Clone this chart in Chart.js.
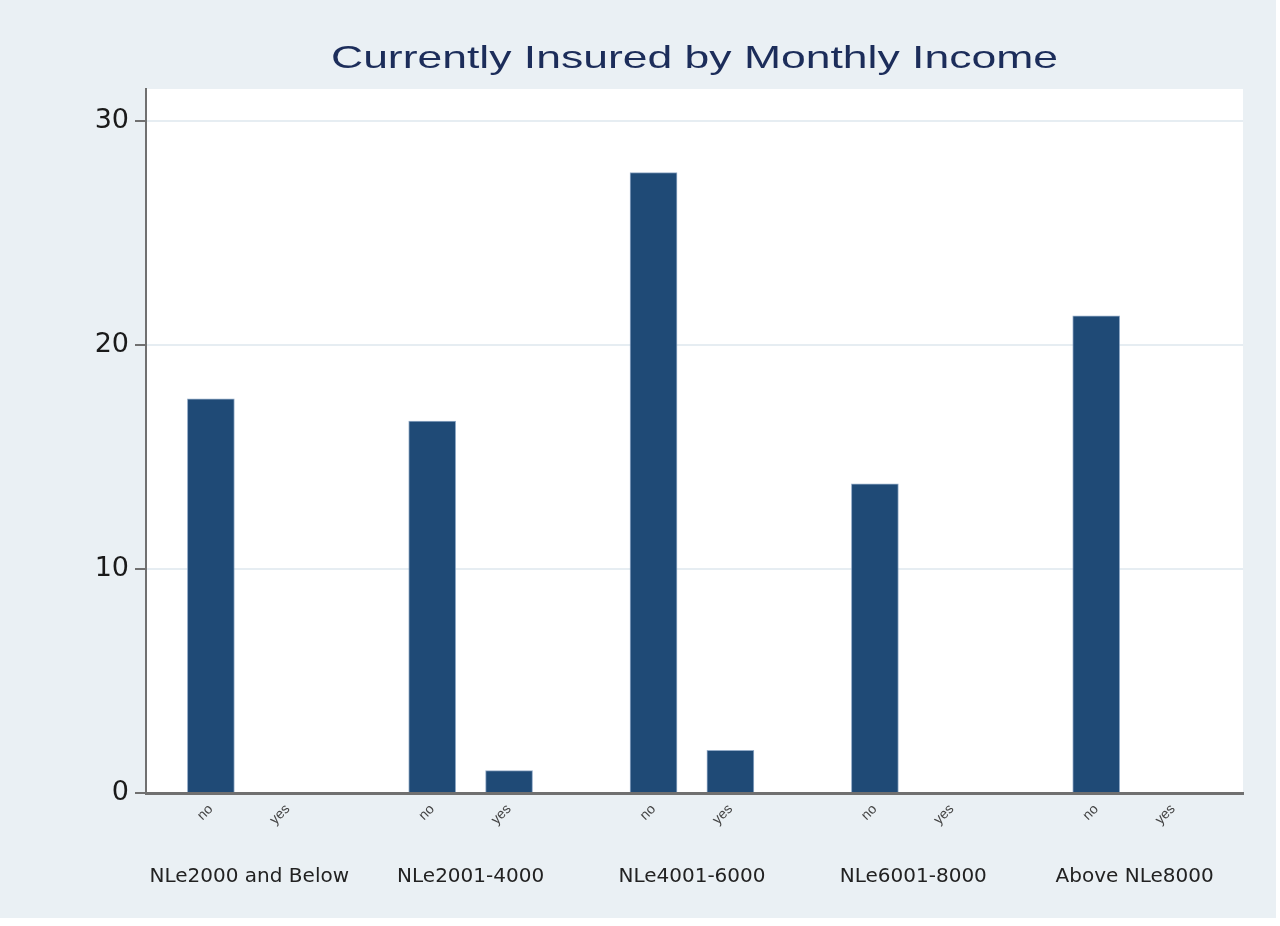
<!DOCTYPE html>
<html>
<head>
<meta charset="utf-8">
<script src="https://cdn.jsdelivr.net/npm/chart.js@4/dist/chart.umd.min.js"></script>
<style>
  html, body { margin: 0; padding: 0; background: #ffffff; }
  #wrap { width: 1280px; height: 926px; position: relative; }
</style>
</head>
<body>
<div id="wrap"><canvas id="myChart"></canvas></div>
<script>
// Data
const groups = ['NLe2000 and Below', 'NLe2001-4000', 'NLe4001-6000', 'NLe6001-8000', 'Above NLe8000'];
const subLabels = ['no', 'yes'];
const noValues = [17.6, 16.6, 27.7, 13.8, 21.3];
const yesValues = [0, 1.0, 1.9, 0, 0];
const yTicks = [0, 10, 20, 30];
const titleText = 'Currently Insured by Monthly Income';

// spacing between groups, in bar units
const GAP = 2.88;

const points = [];
const subPos = [];
const groupPos = [];
groups.forEach(function(g, i) {
    points.push({ x: i * GAP, y: noValues[i] });
    points.push({ x: i * GAP + 1, y: yesValues[i] });
    subPos.push(i * GAP, i * GAP + 1);
    groupPos.push(i * GAP + 0.5);
});

// light panel behind everything, white plot region
const bgPlugin = {
    id: 'bg',
    beforeDraw: function(chart) {
        const c = chart.ctx, a = chart.chartArea;
        c.save();
        c.fillStyle = '#eaf0f4';
        c.fillRect(0, 0, 1276, 918);
        c.fillStyle = '#ffffff';
        c.fillRect(a.left, a.top, a.right - a.left, a.bottom - a.top);
        c.restore();
    }
};

// title centred over the plot area, drawn wide like the original
const titlePlugin = {
    id: 'wideTitle',
    afterDraw: function(chart) {
        const c = chart.ctx, a = chart.chartArea;
        const cx = (a.left + a.right) / 2;
        c.save();
        c.font = '32px "Liberation Sans"';
        c.fillStyle = '#1c2d5a';
        c.textAlign = 'center';
        c.textBaseline = 'alphabetic';
        const w = c.measureText(titleText).width;
        const sx = 727 / w;
        c.translate(cx, 68);
        c.scale(sx, 1);
        c.fillText(titleText, 0, 0);
        c.restore();
    }
};

const ctx = document.getElementById('myChart');
new Chart(ctx, {
    type: 'bar',
    data: {
        datasets: [{
            label: 'Percent',
            data: points,
            backgroundColor: '#1f4a76',
            borderColor: 'rgba(120, 150, 185, 0.8)',
            borderWidth: 1,
            barThickness: 47,
            xAxisID: 'x'
        }]
    },
    options: {
        responsive: true,
        maintainAspectRatio: false,
        animation: false,
        layout: { padding: { left: 0, right: 37, top: 89, bottom: 28 } },
        scales: {
            x: {
                type: 'linear',
                position: 'bottom',
                weight: 0,
                offset: false,
                min: -0.844,
                max: 13.43,
                afterBuildTicks: function(scale) {
                    scale.ticks = subPos.map(function(v) { return { value: v }; });
                },
                afterFit: function(scale) { scale.height = 60; },
                ticks: {
                    autoSkip: false,
                    minRotation: 45,
                    maxRotation: 45,
                    padding: 8,
                    color: '#444444',
                    font: { family: 'Liberation Sans', size: 14 },
                    callback: function(v, i) { return subLabels[i % 2]; }
                },
                grid: { display: false, drawTicks: false, offset: false },
                border: { display: true, color: '#707070', width: 3 }
            },
            x2: {
                type: 'linear',
                position: 'bottom',
                weight: 1,
                offset: false,
                min: -0.844,
                max: 13.43,
                afterBuildTicks: function(scale) {
                    scale.ticks = groupPos.map(function(v) { return { value: v }; });
                },
                afterFit: function(scale) { scale.height = 45; },
                ticks: {
                    autoSkip: false,
                    maxRotation: 0,
                    minRotation: 0,
                    padding: 12,
                    color: '#222222',
                    font: { family: 'DejaVu Sans', size: 20 },
                    callback: function(v, i) { return groups[i]; }
                },
                grid: { display: false, drawTicks: false },
                border: { display: false }
            },
            y: {
                min: 0,
                max: 31.43,
                afterBuildTicks: function(scale) {
                    scale.ticks = yTicks.map(function(v) { return { value: v }; });
                },
                afterFit: function(scale) { scale.width = 146; },
                ticks: {
                    padding: 6,
                    color: '#1a1a1a',
                    font: { family: 'DejaVu Sans', size: 27 }
                },
                grid: { color: '#e6edf2', lineWidth: 2, tickColor: '#707070', tickLength: 11 },
                border: { display: true, color: '#707070', width: 2 }
            }
        },
        plugins: {
            legend: { display: false },
            tooltip: { enabled: false },
            title: { display: false }
        }
    },
    plugins: [bgPlugin, titlePlugin]
});
</script>
</body>
</html>
